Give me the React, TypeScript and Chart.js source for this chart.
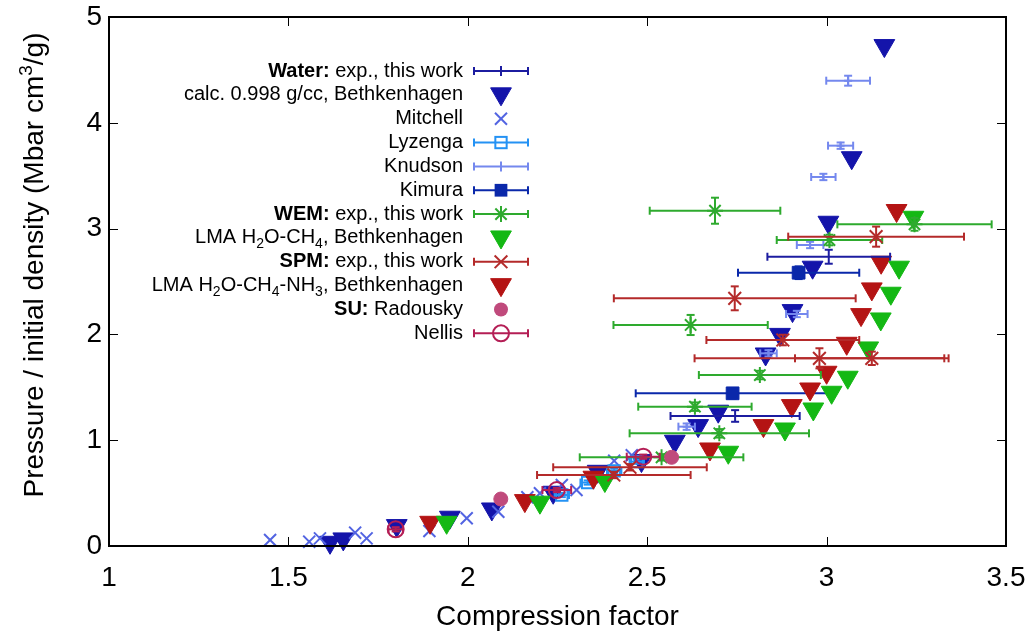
import React, { useEffect, useRef } from 'react';
import { Chart, registerables } from 'chart.js';

Chart.register(...registerables);

const FONT = "'Liberation Sans', Arial, Helvetica, sans-serif";

// ---- axis ticks ----
const xTickValues = [1, 1.5, 2, 2.5, 3, 3.5];
const yTickValues = [0, 1, 2, 3, 4, 5];

// ---- Water: exp., this work ----
const waterExpX = [3.006, 2.745];
const waterExpY = [2.734, 1.229];
const waterExpXErr = [0.171, 0.18];
const waterExpYErr = [0.066, 0.055];

// ---- calc. 0.998 g/cc, Bethkenhagen ----
const waterCalcX = [3.161, 3.070, 3.005, 2.961, 2.905, 2.870, 2.830, 2.698, 2.642, 2.577, 2.484, 2.362, 2.238, 2.067, 1.950, 1.802, 1.616, 1.653];
const waterCalcY = [4.73, 3.67, 3.06, 2.635, 2.225, 2.0, 1.815, 1.274, 1.138, 0.99, 0.807, 0.706, 0.508, 0.35, 0.272, 0.193, 0.035, 0.067];

// ---- Mitchell ----
const mitchellX = [1.449, 1.558, 1.588, 1.686, 1.718, 1.893, 1.997, 2.085, 2.166, 2.201, 2.262, 2.303, 2.408, 2.457];
const mitchellY = [0.057, 0.041, 0.072, 0.126, 0.072, 0.142, 0.262, 0.324, 0.46, 0.498, 0.577, 0.529, 0.805, 0.857];

// ---- Lyzenga ----
const lyzengaX = [2.262, 2.334, 2.408, 2.471];
const lyzengaY = [0.482, 0.60, 0.71, 0.797];
const lyzengaXErr = [0.02, 0.02, 0.02, 0.02];
const lyzengaYErr = [0.02, 0.02, 0.02, 0.02];

// ---- Knudson ----
const knudsonX = [3.060, 3.039, 2.991, 2.954, 2.917, 2.838, 2.610];
const knudsonY = [4.398, 3.784, 3.488, 2.845, 2.193, 1.821, 1.128];
const knudsonXErr = [0.061, 0.035, 0.034, 0.037, 0.030, 0.023, 0.023];
const knudsonYErr = [0.047, 0.03, 0.03, 0.03, 0.03, 0.03, 0.03];

// ---- Kimura ----
const kimuraX = [2.922, 2.738];
const kimuraY = [2.583, 1.443];
const kimuraXErr = [0.169, 0.27];
const kimuraYErr = [0.06, 0.05];

// ---- WEM: exp., this work ----
const wemX = [2.689, 3.245, 3.008, 2.621, 2.814, 2.633, 2.701, 2.540];
const wemY = [3.169, 3.040, 2.892, 2.089, 1.616, 1.317, 1.065, 0.838];
const wemXErr = [0.182, 0.215, 0.147, 0.215, 0.17, 0.158, 0.25, 0.228];
const wemYErr = [0.123, 0.06, 0.05, 0.095, 0.04, 0.04, 0.04, 0.03];

// ---- LMA H2O-CH4, Bethkenhagen ----
const ch4X = [3.242, 3.202, 3.179, 3.151, 3.116, 3.059, 3.014, 2.963, 2.884, 2.726, 2.382, 2.201, 1.941];
const ch4Y = [3.107, 2.635, 2.389, 2.146, 1.872, 1.595, 1.453, 1.295, 1.106, 0.886, 0.619, 0.414, 0.224];

// ---- SPM: exp., this work ----
const spmX = [3.138, 2.744, 2.878, 2.980, 3.126, 2.452, 2.407];
const spmY = [2.924, 2.341, 1.947, 1.774, 1.774, 0.744, 0.671];
const spmXErr = [0.245, 0.337, 0.213, 0.348, 0.214, 0.214, 0.214];
const spmYErr = [0.095, 0.113, 0.05, 0.095, 0.063, 0.03, 0.03];

// ---- LMA H2O-CH4-NH3, Bethkenhagen ----
const nh3X = [3.195, 3.152, 3.126, 3.096, 3.056, 3.000, 2.954, 2.903, 2.824, 2.675, 2.350, 2.159, 1.895];
const nh3Y = [3.171, 2.682, 2.43, 2.187, 1.916, 1.642, 1.484, 1.327, 1.138, 0.917, 0.65, 0.429, 0.224];

// ---- SU: Radousky ----
const suX = [2.568, 2.092];
const suY = [0.838, 0.444];

// ---- Nellis ----
const nellisX = [2.489, 2.248, 1.799];
const nellisY = [0.844, 0.529, 0.158];
const nellisXErr = [0.046, 0.04, 0.02];
const nellisYErr = [0.02, 0.02, 0.02];

const pts = (xs: number[], ys: number[]) => xs.map((x, i) => ({ x, y: ys[i] }));

type Seg = { t: string; b?: boolean; sub?: boolean };

interface Series {
  label: Seg[];
  xs: number[];
  ys: number[];
  xErr?: number[];
  yErr?: number[];
  color: string;
  style: string; // none | triDown | crossRot | rect | cross | star | circle
  radius: number;
  filled: boolean;
  lw: number;
  order: number;
  legendTick?: boolean;
}

const series: Series[] = [
  { label: [{ t: 'Water:', b: true }, { t: ' exp., this work' }], xs: waterExpX, ys: waterExpY, xErr: waterExpXErr, yErr: waterExpYErr, color: '#1c1ca0', style: 'none', radius: 0, filled: false, lw: 2, order: 4, legendTick: true },
  { label: [{ t: 'calc. 0.998 g/cc, Bethkenhagen' }], xs: waterCalcX, ys: waterCalcY, color: '#1414aa', style: 'triDown', radius: 12, filled: true, lw: 1, order: 11 },
  { label: [{ t: 'Mitchell' }], xs: mitchellX, ys: mitchellY, color: '#5264e2', style: 'crossRot', radius: 8.5, filled: false, lw: 2, order: 10 },
  { label: [{ t: 'Lyzenga' }], xs: lyzengaX, ys: lyzengaY, xErr: lyzengaXErr, yErr: lyzengaYErr, color: '#2492f4', style: 'rect', radius: 8, filled: false, lw: 2, order: 9 },
  { label: [{ t: 'Knudson' }], xs: knudsonX, ys: knudsonY, xErr: knudsonXErr, yErr: knudsonYErr, color: '#7488ee', style: 'cross', radius: 4, filled: false, lw: 2, order: 8, legendTick: true },
  { label: [{ t: 'Kimura' }], xs: kimuraX, ys: kimuraY, xErr: kimuraXErr, yErr: kimuraYErr, color: '#0a28aa', style: 'rect', radius: 9, filled: true, lw: 1, order: 7 },
  { label: [{ t: 'WEM:', b: true }, { t: ' exp., this work' }], xs: wemX, ys: wemY, xErr: wemXErr, yErr: wemYErr, color: '#2eaa2e', style: 'star', radius: 8, filled: false, lw: 2, order: 3 },
  { label: [{ t: 'LMA H' }, { t: '2', sub: true }, { t: 'O-CH' }, { t: '4', sub: true }, { t: ', Bethkenhagen' }], xs: ch4X, ys: ch4Y, color: '#14b814', style: 'triDown', radius: 12, filled: true, lw: 1, order: 5 },
  { label: [{ t: 'SPM:', b: true }, { t: ' exp., this work' }], xs: spmX, ys: spmY, xErr: spmXErr, yErr: spmYErr, color: '#b42a2a', style: 'crossRot', radius: 9, filled: false, lw: 2, order: 2 },
  { label: [{ t: 'LMA H' }, { t: '2', sub: true }, { t: 'O-CH' }, { t: '4', sub: true }, { t: '-NH' }, { t: '3', sub: true }, { t: ', Bethkenhagen' }], xs: nh3X, ys: nh3Y, color: '#b41414', style: 'triDown', radius: 12, filled: true, lw: 1, order: 6 },
  { label: [{ t: 'SU:', b: true }, { t: ' Radousky' }], xs: suX, ys: suY, color: '#c04a7c', style: 'circle', radius: 7, filled: true, lw: 1, order: 1 },
  { label: [{ t: 'Nellis' }], xs: nellisX, ys: nellisY, xErr: nellisXErr, yErr: nellisYErr, color: '#b41e55', style: 'circle', radius: 8, filled: false, lw: 2, order: 0 },
];

const cjsStyle = (s: string) => {
  switch (s) {
    case 'triDown': return 'triangle';
    case 'none': return 'circle';
    default: return s;
  }
};

function line(ctx: CanvasRenderingContext2D, x0: number, y0: number, x1: number, y1: number) {
  ctx.beginPath();
  ctx.moveTo(x0, y0);
  ctx.lineTo(x1, y1);
  ctx.stroke();
}

function drawMarker(ctx: CanvasRenderingContext2D, s: Series, x: number, y: number) {
  const r = s.radius;
  ctx.save();
  ctx.strokeStyle = s.color;
  ctx.fillStyle = s.color;
  ctx.lineWidth = s.lw;
  switch (s.style) {
    case 'triDown': {
      ctx.beginPath();
      ctx.moveTo(x, y + r);
      ctx.lineTo(x - 0.866 * r, y - 0.5 * r);
      ctx.lineTo(x + 0.866 * r, y - 0.5 * r);
      ctx.closePath();
      ctx.fill();
      ctx.stroke();
      break;
    }
    case 'crossRot': {
      const o = 0.7071 * r;
      line(ctx, x - o, y - o, x + o, y + o);
      line(ctx, x - o, y + o, x + o, y - o);
      break;
    }
    case 'cross': {
      line(ctx, x - r, y, x + r, y);
      line(ctx, x, y - r, x, y + r);
      break;
    }
    case 'star': {
      const o = 0.7071 * r;
      line(ctx, x - r, y, x + r, y);
      line(ctx, x, y - r, x, y + r);
      line(ctx, x - o, y - o, x + o, y + o);
      line(ctx, x - o, y + o, x + o, y - o);
      break;
    }
    case 'rect': {
      const h = 0.7071 * r;
      if (s.filled) ctx.fillRect(x - h, y - h, 2 * h, 2 * h);
      else ctx.strokeRect(x - h, y - h, 2 * h, 2 * h);
      break;
    }
    case 'circle': {
      ctx.beginPath();
      ctx.arc(x, y, r, 0, Math.PI * 2);
      if (s.filled) ctx.fill();
      else ctx.stroke();
      break;
    }
  }
  ctx.restore();
}

const CAP = 4;

const errorBarPlugin = {
  id: 'errorBars',
  beforeDatasetDraw(chart: any, args: any) {
    const s: Series = series[args.index];
    if (!s || (!s.xErr && !s.yErr)) return;
    const { ctx } = chart;
    const xs = chart.scales.x;
    const ys = chart.scales.y;
    ctx.save();
    ctx.strokeStyle = s.color;
    ctx.lineWidth = 2;
    s.xs.forEach((xv, i) => {
      const px = xs.getPixelForValue(xv);
      const py = ys.getPixelForValue(s.ys[i]);
      const xe = s.xErr ? s.xErr[i] : 0;
      const ye = s.yErr ? s.yErr[i] : 0;
      if (xe) {
        const x0 = xs.getPixelForValue(xv - xe);
        const x1 = xs.getPixelForValue(xv + xe);
        line(ctx, x0, py, x1, py);
        line(ctx, x0, py - CAP, x0, py + CAP);
        line(ctx, x1, py - CAP, x1, py + CAP);
      }
      if (ye) {
        const y0 = ys.getPixelForValue(s.ys[i] - ye);
        const y1 = ys.getPixelForValue(s.ys[i] + ye);
        line(ctx, px, y0, px, y1);
        line(ctx, px - CAP, y0, px + CAP, y0);
        line(ctx, px - CAP, y1, px + CAP, y1);
      }
    });
    ctx.restore();
  },
};

const framePlugin = {
  id: 'frame',
  afterDatasetsDraw(chart: any) {
    const { ctx, chartArea } = chart;
    const { left, right, top, bottom } = chartArea;
    const xs = chart.scales.x;
    const ys = chart.scales.y;
    ctx.save();
    ctx.strokeStyle = '#000';
    ctx.lineWidth = 1;
    const T = 9;
    xTickValues.forEach((v) => {
      const p = Math.round(xs.getPixelForValue(v)) + 0.5;
      line(ctx, p, bottom, p, bottom - T);
      line(ctx, p, top, p, top + T);
    });
    yTickValues.forEach((v) => {
      const p = Math.round(ys.getPixelForValue(v)) + 0.5;
      line(ctx, left, p, left + T, p);
      line(ctx, right, p, right - T, p);
    });
    ctx.lineWidth = 2;
    ctx.strokeRect(left, top, right - left, bottom - top);
    ctx.restore();
  },
};

const LEG_FS = 20;
const SUB_FS = 14;
const LEG_TEXT_RIGHT = 463;
const LEG_Y0 = 71;
const LEG_DY = 23.85;
const LEG_L = 474;
const LEG_R = 528;
const LEG_M = 501;

const legendPlugin = {
  id: 'customLegend',
  afterDraw(chart: any) {
    const ctx: CanvasRenderingContext2D = chart.ctx;
    ctx.save();
    ctx.textBaseline = 'middle';
    ctx.textAlign = 'left';
    ctx.fillStyle = '#000';
    series.forEach((s, i) => {
      const y = LEG_Y0 + i * LEG_DY;
      const fontOf = (g: Seg) => `${g.b ? 'bold ' : ''}${g.sub ? SUB_FS : LEG_FS}px ${FONT}`;
      let w = 0;
      s.label.forEach((g) => {
        ctx.font = fontOf(g);
        w += ctx.measureText(g.t).width;
      });
      let x = LEG_TEXT_RIGHT - w;
      s.label.forEach((g) => {
        ctx.font = fontOf(g);
        ctx.fillStyle = '#000';
        ctx.fillText(g.t, x, g.sub ? y + 6 : y);
        x += ctx.measureText(g.t).width;
      });
      // sample
      ctx.strokeStyle = s.color;
      ctx.lineWidth = 2;
      if (s.xErr) {
        line(ctx, LEG_L, y, LEG_R, y);
        line(ctx, LEG_L, y - CAP, LEG_L, y + CAP);
        line(ctx, LEG_R, y - CAP, LEG_R, y + CAP);
      }
      if (s.legendTick) {
        line(ctx, LEG_M, y - 5, LEG_M, y + 5);
      } else if (s.style !== 'none') {
        drawMarker(ctx, s, LEG_M, s.style === 'triDown' ? y - 1 : y);
      }
    });
    ctx.restore();
  },
};

const yTitlePlugin = {
  id: 'yTitle',
  afterDraw(chart: any) {
    const ctx: CanvasRenderingContext2D = chart.ctx;
    const big = `28px ${FONT}`;
    const small = `19px ${FONT}`;
    const parts = [
      { t: 'Pressure / initial density (Mbar cm', f: big, dy: 0 },
      { t: '3', f: small, dy: -11 },
      { t: '/g)', f: big, dy: 0 },
    ];
    ctx.save();
    let total = 0;
    parts.forEach((p) => {
      ctx.font = p.f;
      total += ctx.measureText(p.t).width;
    });
    ctx.translate(43, 265 + total / 2);
    ctx.rotate(-Math.PI / 2);
    ctx.textBaseline = 'alphabetic';
    ctx.textAlign = 'left';
    ctx.fillStyle = '#000';
    let xx = 0;
    parts.forEach((p) => {
      ctx.font = p.f;
      ctx.fillText(p.t, xx, p.dy);
      xx += ctx.measureText(p.t).width;
    });
    ctx.restore();
  },
};

export default function App() {
  const ref = useRef<HTMLCanvasElement>(null);
  useEffect(() => {
    document.body.style.margin = '0';
    const datasets = series.map((s) => ({
      label: s.label.map((g) => g.t).join(''),
      data: pts(s.xs, s.ys),
      pointStyle: cjsStyle(s.style),
      rotation: s.style === 'triDown' ? 180 : 0,
      pointRadius: s.radius,
      pointHoverRadius: s.radius,
      backgroundColor: s.filled ? s.color : 'rgba(0,0,0,0)',
      borderColor: s.color,
      pointBorderWidth: s.lw,
      borderWidth: s.lw,
      showLine: false,
      clip: false as any,
      order: s.order,
    }));
    const chart = new Chart(ref.current as HTMLCanvasElement, {
      type: 'scatter',
      data: { datasets },
      plugins: [errorBarPlugin, framePlugin, legendPlugin, yTitlePlugin],
      options: {
        animation: false,
        responsive: false,
        devicePixelRatio: 1,
        events: [],
        layout: { padding: { top: 17, right: 26, left: 0, bottom: 0 } },
        plugins: { legend: { display: false }, tooltip: { enabled: false } },
        scales: {
          x: {
            type: 'linear',
            min: 1,
            max: 3.5,
            afterBuildTicks: (sc: any) => {
              sc.ticks = xTickValues.map((v) => ({ value: v }));
            },
            afterFit: (sc: any) => {
              sc.height = 91;
              sc.paddingLeft = 0;
              sc.paddingRight = 0;
              sc.paddingTop = 0;
              sc.paddingBottom = 0;
            },
            grid: { display: false, drawTicks: false },
            border: { display: false },
            ticks: {
              font: { family: FONT, size: 28 },
              color: '#000',
              padding: 15,
              maxRotation: 0,
              autoSkip: false,
              callback: (v: any) => String(v),
            },
            title: {
              display: true,
              text: 'Compression factor',
              font: { family: FONT, size: 28 },
              color: '#000',
              padding: { top: 0, bottom: 3 },
            },
          },
          y: {
            type: 'linear',
            min: 0,
            max: 5,
            afterBuildTicks: (sc: any) => {
              sc.ticks = yTickValues.map((v) => ({ value: v }));
            },
            afterFit: (sc: any) => {
              sc.width = 109;
              sc.paddingLeft = 0;
              sc.paddingRight = 0;
              sc.paddingTop = 0;
              sc.paddingBottom = 0;
            },
            grid: { display: false, drawTicks: false },
            border: { display: false },
            ticks: {
              font: { family: FONT, size: 28 },
              color: '#000',
              padding: 7,
              autoSkip: false,
              callback: (v: any) => String(v),
            },
            title: { display: false },
          },
        },
      } as any,
    });
    return () => chart.destroy();
  }, []);
  return (
    <div style={{ width: 1032, height: 637 }}>
      <canvas ref={ref} width={1032} height={637} style={{ display: 'block' }} />
    </div>
  );
}
